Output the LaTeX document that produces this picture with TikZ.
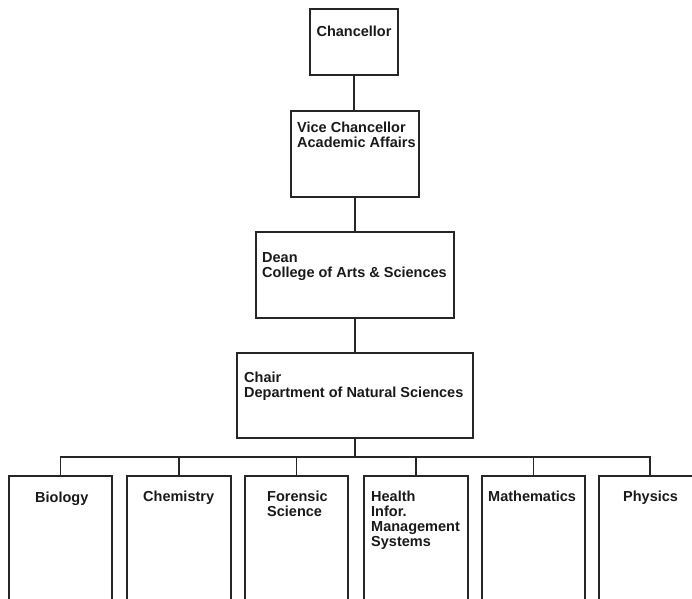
\documentclass[tikz,border=0pt]{standalone}
\usepackage{fontspec}
\setmainfont{Liberation Sans}
\begin{document}
\begin{tikzpicture}[x=1pt,y=-1pt,
  boxst/.style={draw=black!85, line width=1.1pt, rectangle, inner sep=0pt},
  linest/.style={draw=black!85, line width=1.1pt},
  lbl/.style={anchor=north west, inner sep=0pt, align=left, text=black!90,
    font=\fontsize{14.5}{15}\selectfont\bfseries}]
\useasboundingbox (0,0) rectangle (692,598);
\begin{scope}
\clip (0,0) rectangle (692,598);
% boxes
\node[boxst, minimum width=88pt, minimum height=66pt] (chan) at (354,42) {};
\node[boxst, minimum width=128pt, minimum height=86pt] (vc) at (355,154) {};
\node[boxst, minimum width=198pt, minimum height=86pt] (dean) at (355,275) {};
\node[boxst, minimum width=236pt, minimum height=85pt] (chair) at (355,395.5) {};
\node[boxst, minimum width=103pt, minimum height=150pt] (bio) at (60.5,551) {};
\node[boxst, minimum width=104pt, minimum height=150pt] (chem) at (179,551) {};
\node[boxst, minimum width=103pt, minimum height=150pt] (for) at (296.5,551) {};
\node[boxst, minimum width=104pt, minimum height=150pt] (hea) at (416,551) {};
\node[boxst, minimum width=103pt, minimum height=150pt] (mat) at (533.5,551) {};
\node[boxst, minimum width=102pt, minimum height=150pt] (phy) at (650,551) {};
\coordinate (bus) at (355,457);
% texts
\node[lbl, anchor=north] (tchan) at (354,26) {Chancellor};
\node[lbl] (tvc) at (297,122) {Vice Chancellor\\Academic Affairs};
\node[lbl] (tdean) at (262,252) {Dean\\College of Arts \& Sciences};
\node[lbl] (tchair) at (244,372) {Chair\\Department of Natural Sciences};
\node[lbl] (tbio) at (35,492) {Biology};
\node[lbl] (tchem) at (143,491) {Chemistry};
\node[lbl] (tfor) at (267,491) {Forensic\\Science};
\node[lbl] (thea) at (371,491) {Health\\Infor.\\Management\\Systems};
\node[lbl] (tmat) at (488,491) {Mathematics};
\node[lbl] (tphy) at (623,491) {Physics};
% connectors
\draw[linest] (chan.south) -- (chan.south |- vc.north);
\draw[linest] (vc.south) -- (vc.south |- dean.north);
\draw[linest] (dean.south) -- (dean.south |- chair.north);
\draw[linest] (chair.south) -- (chair.south |- bus);
\draw[linest] (bio.north) -- (bio.north |- bus) -- (phy.north |- bus) -- (phy.north);
\foreach \d in {chem,for,hea,mat}
  \draw[linest] (\d.north) -- (\d.north |- bus);
\end{scope}
\end{tikzpicture}
\end{document}
